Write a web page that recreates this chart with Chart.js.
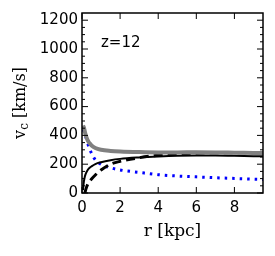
<!DOCTYPE html>
<html>
<head>
<meta charset="utf-8">
<script src="https://cdn.jsdelivr.net/npm/chart.js@4.4.0/dist/chart.umd.min.js"></script>
<style>
  html, body { margin: 0; padding: 0; background: #fff; }
  #wrap { width: 275px; height: 256px; }
</style>
</head>
<body>
<div id="wrap"><canvas id="vcChart" width="275" height="256"></canvas></div>
<script>
// radius samples (kpc), shared by all curves
const radius = [0.05, 0.1, 0.15, 0.2, 0.3, 0.4, 0.5, 0.7, 1, 1.5, 2, 3, 4, 5, 6, 7, 8, 9, 9.5];

// circular velocity curves (km/s), null where the curve is not drawn
const vTotal   = [468, 455, 425, 400, 365, 345, 330, 312, 300, 292, 288, 284, 282, 282, 283, 282, 280, 278, 277];
const vDashed  = [null, null, 0, 25, 60, 80, 97, 125, 160, 200, 220, 245, 262, 272, 278, 280, 280, 278, 277];
const vSolid   = [20, 80, 115, 135, 160, 175, 185, 201, 214, 228, 237, 247, 254, 259, 261, 260, 258, 256, 255];
const vDotted  = [440, 430, 410, 390, 345, 305, 275, 230, 200, 175, 160, 143, 127, 118, 112, 106, 101, 96, 94];

const xTicks = [0, 2, 4, 6, 8];
const yTicks = [0, 200, 400, 600, 800, 1000, 1200];
const yMinorTicks = [50, 100, 150, 250, 300, 350, 450, 500, 550, 650, 700, 750, 850, 900, 950, 1050, 1100, 1150];
const panelLabel = "z=12";

function toPoints(values) {
  return radius.map((r, i) => ({ x: r, y: values[i] }));
}

// frame, inward ticks, panel label and y title with subscript
const framePlugin = {
  id: "frame",
  afterDraw(chart) {
    const ctx = chart.ctx;
    const { left, right, top, bottom } = chart.chartArea;
    const xs = chart.scales.x, ys = chart.scales.y;
    ctx.save();
    ctx.strokeStyle = "#000";
    ctx.lineWidth = 1;
    ctx.beginPath();
    xTicks.forEach(v => {
      const px = xs.getPixelForValue(v);
      ctx.moveTo(px, bottom); ctx.lineTo(px, bottom - 6);
      ctx.moveTo(px, top); ctx.lineTo(px, top + 6);
    });
    yTicks.forEach(v => {
      const py = ys.getPixelForValue(v);
      ctx.moveTo(left, py); ctx.lineTo(left + 6, py);
      ctx.moveTo(right, py); ctx.lineTo(right - 6, py);
    });
    yMinorTicks.forEach(v => {
      const py = ys.getPixelForValue(v);
      ctx.moveTo(left, py); ctx.lineTo(left + 3, py);
      ctx.moveTo(right, py); ctx.lineTo(right - 3, py);
    });
    ctx.stroke();
    ctx.lineWidth = 1.5;
    ctx.strokeRect(left, top, right - left, bottom - top);

    ctx.fillStyle = "#000";
    ctx.font = "15px 'DejaVu Sans'";
    ctx.textBaseline = "middle";
    ctx.fillText(panelLabel, 101, 43);

    // y axis title: v_c [km/s]
    ctx.translate(21, (top + bottom) / 2);
    ctx.rotate(-Math.PI / 2);
    ctx.font = "16px 'DejaVu Serif'";
    const w1 = ctx.measureText("v").width;
    ctx.font = "12px 'DejaVu Serif'";
    const w2 = ctx.measureText("c").width;
    ctx.font = "16px 'DejaVu Serif'";
    const w3 = ctx.measureText(" [km/s]").width;
    let x0 = -(w1 + w2 + w3) / 2;
    ctx.fillText("v", x0, 0);
    ctx.font = "12px 'DejaVu Serif'";
    ctx.fillText("c", x0 + w1, 4);
    ctx.font = "16px 'DejaVu Serif'";
    ctx.fillText(" [km/s]", x0 + w1 + w2, 0);
    ctx.restore();
  }
};

const ctx = document.getElementById("vcChart").getContext("2d");
new Chart(ctx, {
  type: "line",
  data: {
    datasets: [
      { data: toPoints(vTotal), borderColor: "#808080", borderWidth: 4 },
      { data: toPoints(vDashed), borderColor: "#000", borderWidth: 3, borderDash: [9, 5] },
      { data: toPoints(vSolid), borderColor: "#000", borderWidth: 2 },
      { data: toPoints(vDotted), borderColor: "#0000ff", borderWidth: 3, borderDash: [2.5, 5] }
    ]
  },
  options: {
    responsive: false,
    animation: false,
    layout: { padding: { left: 0, right: 12, top: 12, bottom: 0 } },
    elements: {
      point: { radius: 0 },
      line: { cubicInterpolationMode: "monotone", fill: false }
    },
    plugins: { legend: { display: false }, tooltip: { enabled: false } },
    scales: {
      x: {
        type: "linear",
        min: 0,
        max: 9.5,
        grid: { display: false, drawTicks: false },
        border: { display: false },
        afterBuildTicks: axis => { axis.ticks = xTicks.map(v => ({ value: v })); },
        afterFit: axis => { axis.height = 63; },
        ticks: { color: "#000", font: { family: "DejaVu Sans", size: 15 }, padding: 6, maxRotation: 0, callback: v => String(v) },
        title: {
          display: true,
          text: "r [kpc]",
          color: "#000",
          font: { family: "DejaVu Serif", size: 17 },
          padding: { top: 0, bottom: 14 }
        }
      },
      y: {
        type: "linear",
        min: 0,
        max: 1250,
        grid: { display: false, drawTicks: false },
        border: { display: false },
        afterBuildTicks: axis => { axis.ticks = yTicks.map(v => ({ value: v })); },
        afterFit: axis => { axis.width = 82; },
        ticks: { color: "#000", font: { family: "DejaVu Sans", size: 15 }, padding: 4, callback: v => String(v) }
      }
    }
  },
  plugins: [framePlugin]
});
</script>
</body>
</html>
